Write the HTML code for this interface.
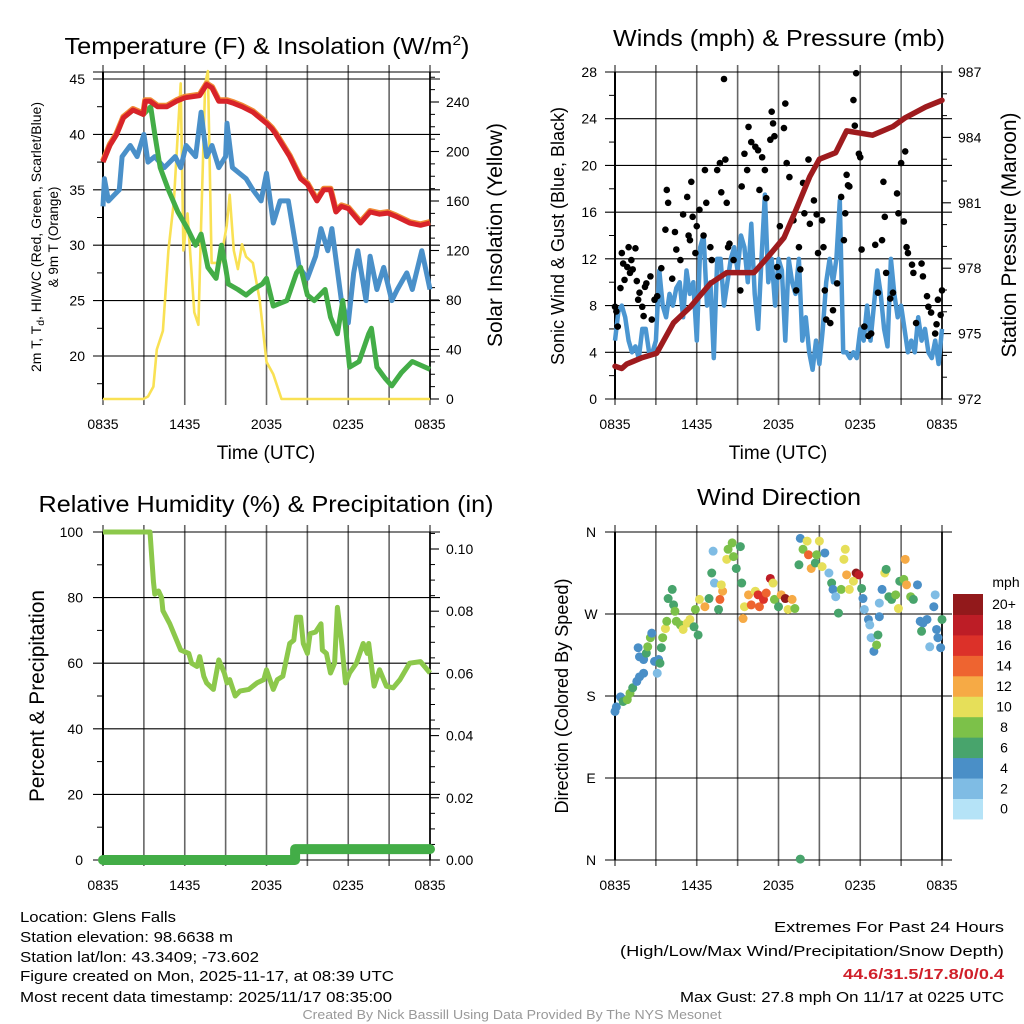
<!DOCTYPE html>
<html><head><meta charset="utf-8"><style>
html,body{margin:0;padding:0;background:#fff;}
svg{display:block;font-family:"Liberation Sans",sans-serif;}
</style></head><body>
<svg id="chart" width="1024" height="1024" viewBox="0 0 1024 1024" xmlns="http://www.w3.org/2000/svg">
<rect x="0" y="0" width="1024" height="1024" fill="#fff"/>
<g id="gTL"></g>
<g id="gTR"></g>
<g id="gBL"></g>
<g id="gBR"></g>
<!-- titles -->
<text x="267" y="54" font-size="23" text-anchor="middle" textLength="405" lengthAdjust="spacingAndGlyphs">Temperature (F) &amp; Insolation (W/m<tspan dy="-9" font-size="14">2</tspan><tspan dy="9">)</tspan></text>
<text x="779" y="46" font-size="23" text-anchor="middle" textLength="332" lengthAdjust="spacingAndGlyphs">Winds (mph) &amp; Pressure (mb)</text>
<text x="266" y="512" font-size="23" text-anchor="middle" textLength="455" lengthAdjust="spacingAndGlyphs">Relative Humidity (%) &amp; Precipitation (in)</text>
<text x="779" y="505" font-size="23" text-anchor="middle" textLength="164" lengthAdjust="spacingAndGlyphs">Wind Direction</text>
<!-- axis titles -->
<text x="266" y="459" font-size="19" text-anchor="middle">Time (UTC)</text>
<text x="778" y="459" font-size="19" text-anchor="middle">Time (UTC)</text>
<text transform="translate(41,237) rotate(-90)" font-size="13.5" text-anchor="middle" textLength="270" lengthAdjust="spacingAndGlyphs">2m T, T<tspan font-size="10" dy="3">d</tspan><tspan dy="-3">, HI/WC (Red, Green, Scarlet/Blue)</tspan></text>
<text transform="translate(58,237) rotate(-90)" font-size="13.5" text-anchor="middle">&amp; 9m T (Orange)</text>
<text transform="translate(502,235) rotate(-90)" font-size="21" text-anchor="middle" textLength="224" lengthAdjust="spacingAndGlyphs">Solar Insolation (Yellow)</text>
<text transform="translate(564,236) rotate(-90)" font-size="18" text-anchor="middle" textLength="258" lengthAdjust="spacingAndGlyphs">Sonic Wind &amp; Gust (Blue, Black)</text>
<text transform="translate(1016,235) rotate(-90)" font-size="21" text-anchor="middle" textLength="245" lengthAdjust="spacingAndGlyphs">Station Pressure (Maroon)</text>
<text transform="translate(44,696) rotate(-90)" font-size="21" text-anchor="middle" textLength="212" lengthAdjust="spacingAndGlyphs">Percent &amp; Precipitation</text>
<text transform="translate(568,696) rotate(-90)" font-size="18" text-anchor="middle" textLength="235" lengthAdjust="spacingAndGlyphs">Direction (Colored By Speed)</text>
<!-- footer -->
<g font-size="15" font-family="'Liberation Sans Narrow','Liberation Sans',sans-serif">
<text x="20" y="922" textLength="156" lengthAdjust="spacingAndGlyphs">Location: Glens Falls</text>
<text x="20" y="942" textLength="213" lengthAdjust="spacingAndGlyphs">Station elevation: 98.6638 m</text>
<text x="20" y="962" textLength="239" lengthAdjust="spacingAndGlyphs">Station lat/lon: 43.3409; -73.602</text>
<text x="20" y="981" textLength="374" lengthAdjust="spacingAndGlyphs">Figure created on Mon, 2025-11-17, at 08:39 UTC</text>
<text x="20" y="1002" textLength="372" lengthAdjust="spacingAndGlyphs">Most recent data timestamp: 2025/11/17 08:35:00</text>
</g>
<g font-size="15" font-family="'Liberation Sans Narrow','Liberation Sans',sans-serif" text-anchor="end">
<text x="1004" y="932" textLength="230" lengthAdjust="spacingAndGlyphs">Extremes For Past 24 Hours</text>
<text x="1004" y="956" textLength="384" lengthAdjust="spacingAndGlyphs">(High/Low/Max Wind/Precipitation/Snow Depth)</text>
<text x="1004" y="979" fill="#d0202a" font-weight="bold" textLength="161" lengthAdjust="spacingAndGlyphs">44.6/31.5/17.8/0/0.4</text>
<text x="1004" y="1002" textLength="324" lengthAdjust="spacingAndGlyphs">Max Gust: 27.8 mph On 11/17 at 0225 UTC</text>
</g>
<text x="512" y="1019" font-size="12.5" fill="#999" text-anchor="middle" font-family="'Liberation Sans Narrow','Liberation Sans',sans-serif" textLength="419" lengthAdjust="spacingAndGlyphs">Created By Nick Bassill Using Data Provided By The NYS Mesonet</text>
</svg>
<script>
// ---------- data ----------
const timeTicks = [0, 6, 12, 18, 24];
const timeTickLabels = ['0835', '1435', '2035', '0235', '0835'];
const tempTime = [0,0.5,1,1.5,2.2,2.96,3.1,3.45,4,4.7,5.4,6,7.1,7.6,8,8.5,9.1,9.6,10.2,11,12,12.4,12.7,13.2,13.7,14.5,15,15.7,16.2,16.7,17.1,17.5,18,18.9,19.6,20.3,20.9,21.5,22.5,23.3,24];
const tempVal = [37.5,39,40,41.5,42.2,41.8,43,43,42.5,42.5,43,43.3,43.5,44.5,44.2,43,43,42.8,42.5,42,41,40.5,40,39,38,36,35.5,34,35,35,33,33.5,33.3,32,33,32.8,32.9,32.6,32,31.8,32];
const dewTime = [0,0.5,1,1.5,2.2,2.96,3.5,3.8,4.2,4.8,5.5,6.2,6.8,7.2,7.7,8.3,8.7,9,9.2,9.9,10.5,11,11.7,12,12.5,13.5,14.2,14.5,15,15.5,16.3,16.7,17.2,17.6,18.1,18.8,19.5,19.7,20.1,20.7,21.2,21.9,22.7,24];
const dewVal = [37.5,39,40,41.5,42.2,41.8,42.5,40,37,35,33,31.5,30,31,28,27,30,28,26.5,26,25.5,26,26.5,27,24.5,25,27.5,28,25.5,25,26,23.5,22,25,19,19.5,22,22.5,19,18,17.3,18.5,19.5,18.8];
const chillTime = [0,0.1,0.4,0.8,1.2,1.4,2,2.5,3,3.3,3.8,4.5,5.3,5.7,6.1,6.8,7.2,7.6,8,8.5,9,9.1,9.5,10.5,11,11.6,12,12.5,13,13.6,14,14.4,15,15.6,16,16.5,16.8,17.5,18,18.4,18.7,19.3,19.6,20.1,20.6,21.2,21.6,22.3,22.7,23.4,24];
const chillVal = [33.5,36,34,34.5,35,38,39,38,40,37.5,38,37,38,37,39,38,42,38,39,37,38,41,37,36,35,34,36.5,32,34,34,31,28,27,29,31.5,29.5,31.5,25,23,27.5,29.5,25,29,26,28,25,26,27.5,26,29.5,26];
const solarTime = [0,2.96,3.3,3.7,3.95,4.4,4.8,5.2,5.7,5.9,6.2,6.7,7.0,7.2,7.5,7.7,7.97,8.6,9.08,9.3,9.6,9.9,10.2,10.5,11,11.5,12,12.5,13.1,24];
const solarVal = [0,0,2,10,40,55,120,160,255,120,150,70,60,140,255,265,110,110,140,165,120,105,125,115,110,80,30,20,0,0];
const pressTime = [0,0.5,0.86,2,3.06,4.3,5.5,7.0,8.2,10.2,11.2,12.4,13.3,14.3,15,16.2,17,18.9,20.4,21.3,22.8,24];
const pressVal = [973.5,973.4,973.6,973.9,974.1,975.5,976.2,977.3,977.8,977.8,978.5,979.4,980.7,982.2,983.0,983.3,984.3,984.1,984.5,984.9,985.4,985.7];
const windTime = [0,0.25,0.5,0.75,1,1.25,1.5,1.75,2,2.25,2.5,2.75,3,3.25,3.5,3.75,4,4.25,4.5,4.75,5,5.25,5.5,5.75,6,6.25,6.5,6.75,7,7.25,7.5,7.75,8,8.25,8.5,8.75,9,9.25,9.5,9.75,10,10.25,10.5,10.75,11,11.25,11.5,11.75,12,12.25,12.5,12.75,13,13.25,13.5,13.75,14,14.25,14.5,14.75,15,15.25,15.5,15.75,16,16.25,16.5,16.75,17,17.25,17.5,17.75,18,18.25,18.5,18.75,19,19.25,19.5,19.75,20,20.25,20.5,20.75,21,21.25,21.5,21.75,22,22.25,22.5,22.75,23,23.25,23.5,23.75,24];
const windVal = [5,7.5,8,7,5,4,4.5,3.5,6,6,4,4,5,11,8,7,9,8,9.5,10,7,11,9,10,5,13,14,8,10,3.5,12,12,8,10,12,13,11,14,13,10,15,9,6,12,17.5,10,12,8,12,11,5,12,10,9,12,5,7,4,2.5,5,3,6,10,12,10,12,17,4,4,3.5,4,3.5,6,5,8,5,8,11,9,6,4.5,12,9,7,8,6,4,5,4,7,5,6,4,3.5,5,3,6];
const gustTime = [0,0.1,0.2,0.4,0.5,0.6,0.7,0.9,1.0,1.1,1.2,1.3,1.5,1.6,1.7,1.8,2.0,2.1,2.2,2.3,2.6,2.7,2.9,3.1,3.4,3.7,3.8,3.9,4.2,4.4,4.5,4.8,5.0,5.3,5.4,5.5,5.6,5.7,5.9,6.0,6.2,6.5,6.6,6.7,7.0,7.1,7.5,7.7,7.8,8.0,8.1,8.2,8.3,8.4,8.7,9.2,9.3,9.5,9.7,9.8,10.0,10.3,10.5,10.6,10.8,11.0,11.1,11.4,11.5,11.6,11.7,11.9,12.0,12.1,12.4,12.5,12.6,12.8,13.1,13.3,13.5,13.6,13.8,13.9,14.2,14.3,14.6,14.8,14.9,15.2,15.3,15.4,15.5,15.8,16.0,16.3,16.6,16.8,16.9,17.0,17.1,17.2,17.5,17.6,17.7,17.9,18.0,18.1,18.3,18.6,18.8,19.1,19.3,19.6,19.7,19.8,19.9,20.2,20.4,20.7,20.8,21.0,21.2,21.3,21.4,21.5,21.8,21.9,22.1,22.5,22.6,22.9,23.0,23.2,23.5,23.6,23.7,23.9,24.0];
const gustVal = [7.9,7.5,6.2,9.5,12.5,11.6,10.2,11.3,13.0,10.8,11.9,11.1,12.9,10.1,8.5,9.1,7.9,7.1,9.6,9.9,10.5,6.8,8.5,8.8,11.2,14.5,17.9,16.8,10.3,14.3,12.8,11.9,15.8,17.3,14.0,13.6,18.6,15.6,12.5,14.8,16.2,14.0,19.6,16.8,13.0,11.9,19.6,20.2,17.7,27.4,20.5,16.8,13.0,13.3,11.9,9.3,18.2,21.0,19.6,23.3,22.0,21.6,21.3,17.9,20.7,19.6,17.2,22.2,24.6,23.6,22.5,11.3,10.5,14.8,23.2,25.3,20.2,19.0,15.3,9.3,13.0,11.1,18.5,15.9,20.5,15.0,17.0,15.8,12.5,15.3,13.0,9.3,6.8,6.5,7.6,9.9,17.3,13.6,15.9,19.2,18.3,18.2,25.6,23.4,27.9,21.0,20.7,12.8,6.2,5.4,5.6,13.2,9.1,13.6,18.6,15.6,10.8,8.6,9.1,17.6,15.9,20.2,15.2,21.2,13.0,12.5,11.5,10.8,6.5,11.6,10.5,8.8,7.9,7.4,5.6,6.4,8.5,7.2,9.3];
const rhTime = [0,3.45,3.7,3.8,4.07,4.3,4.4,4.9,5.4,5.7,6.3,6.5,6.9,7.1,7.4,7.6,8.1,8.5,8.9,9.1,9.3,9.7,10.05,10.7,11.3,11.8,12.0,12.5,12.8,13.2,13.7,14.0,14.2,14.5,14.7,15.0,15.2,15.6,16.0,16.1,16.4,16.7,17.0,17.2,17.5,17.8,18.1,18.6,19.1,19.4,19.5,19.9,20.3,20.8,21.3,21.8,22.5,23.3,24];
const rhVal = [100,100,85,81,82,80,76,72,67,64,63,60,59,62,56,54,52,61,57,54,55,50,51.5,52,54,55,58,52,55,56,66,67,74,74,66,63,69,69.5,72,64,63,57,60,77,67,54,57,60,66,63,66,53,58,53,52.5,55,60,60.5,57];
const precipTime = [0,14.1,14.1,24];
const precipVal = [0,0,0.0035,0.0035];
const dirTime = [0,0.1,0.4,0.6,0.9,1.1,1.3,1.6,1.8,2.1,1.7,1.8,2.1,2.3,2.4,2.6,2.7,2.9,3.1,3.2,3.3,3.4,3.5,3.7,3.8,3.9,4.2,4.3,4.4,4.5,4.8,5.0,5.3,5.5,5.8,6.1,5.9,6.2,6.6,6.9,7.1,7.2,7.3,7.6,7.7,7.9,7.8,8.2,8.3,8.6,8.7,8.9,9.2,9.3,9.4,9.5,9.8,10.0,10.3,10.5,10.6,10.9,11.1,11.4,11.6,11.7,12.0,12.2,12.5,12.7,13.0,13.2,13.5,13.6,13.6,13.8,14.1,14.2,14.4,14.7,14.8,15.0,15.2,15.4,15.7,15.9,16.0,16.2,16.4,16.6,16.8,16.9,17.0,17.2,17.5,17.7,17.9,18.1,18.2,18.3,18.6,18.7,18.8,19.0,19.2,19.3,19.4,19.4,19.6,19.8,19.9,20.1,20.3,20.6,20.8,20.9,21.2,21.3,21.4,21.7,21.9,22.2,22.4,22.6,22.9,23.1,23.4,23.5,23.6,23.7,23.9,24.0,22.5];
const dirVal = [163,168,179,174,176,183,189,196,201,205,233,223,220,227,234,244,249,218,205,220,216,233,244,254,262,287,297,280,273,262,258,253,260,264,256,247,275,286,278,287,315,339,304,275,286,295,302,330,341,348,333,320,344,304,265,278,291,280,295,291,278,286,293,309,304,286,278,291,287,275,286,276,324,353,1,341,350,335,320,326,335,350,322,337,315,304,297,289,271,297,330,341,313,297,306,315,313,298,287,275,264,258,244,229,236,247,267,282,297,315,319,289,286,291,276,306,308,330,302,289,286,302,262,260,264,234,278,291,253,244,233,264,251];
const dirSpeed = [4,4,4,6,8,8,6,4,4,4,4,4,4,6,8,8,4,4,2,4,6,6,8,10,8,6,6,6,8,8,8,10,10,10,6,6,8,10,12,6,6,2,2,6,14,12,10,10,8,8,8,6,6,6,12,10,12,14,10,16,14,16,14,18,10,8,6,12,20,10,12,8,6,4,6,8,10,14,12,6,8,10,10,4,2,6,4,2,6,8,10,10,12,10,10,20,18,6,4,2,4,2,2,4,8,6,4,2,4,10,6,6,6,8,10,6,8,12,12,8,6,4,4,4,4,2,4,2,4,4,4,6,6];
const speedBins = ['0','2','4','6','8','10','12','14','16','18','20+'];
const speedColors = ['#b5e3f7','#7fbce4','#4a8fc7','#48a46c','#7cc149','#e6df59','#f6aa45','#ee6430','#dc3129','#bd1d26','#92191b'];

// ---------- helpers ----------
const NS = 'http://www.w3.org/2000/svg';
function mk(tag, attrs, parent) {
  const e = document.createElementNS(NS, tag);
  for (const k in attrs) e.setAttribute(k, attrs[k]);
  parent.appendChild(e);
  return e;
}
function timeScale(x0, x1) { return t => x0 + t / 24 * (x1 - x0); }
function linScale(v0, y0, v1, y1) { return v => y0 + (v - v0) / (v1 - v0) * (y1 - y0); }
function pathD(ts, vs, xs, ys) {
  return ts.map((t, i) => (i ? 'L' : 'M') + xs(t).toFixed(1) + ',' + ys(vs[i]).toFixed(1)).join('');
}
function speedColor(s) {
  let i = Math.round(s / 2);
  if (i > 10) i = 10;
  if (i < 0) i = 0;
  return speedColors[i];
}

function drawFrame(g, x0, x1, yTop, yBot, tickLabelY) {
  const xs = timeScale(x0, x1);
  for (let h = 0; h <= 24; h += 3) {
    const l = mk('line', {x1: xs(h), x2: xs(h), y1: yTop - 7, y2: yBot + 6, stroke: '#666', 'stroke-width': 1.6}, g);
    
    
  }
  timeTicks.forEach((h, i) => {
    const t = mk('text', {x: xs(h), y: tickLabelY, 'font-size': 14, 'text-anchor': 'middle'}, g);
    t.textContent = timeTickLabels[i];
    
    
  });
  const a = mk('line', {x1: x0, x2: x0, y1: yTop, y2: yBot, stroke: '#000', 'stroke-width': 2}, g);
  
  
  const b = mk('line', {x1: x1, x2: x1, y1: yTop, y2: yBot, stroke: '#000', 'stroke-width': 1.6}, g);
  
  
}
function hGrid(g, x0, x1, y, label, labelX, anchor) {
  const l = mk('line', {x1: x0 - 10, x2: x1 + 10, y1: y, y2: y, stroke: '#000', 'stroke-width': 1.1}, g);
  
  
  if (label !== null) {
    const t = mk('text', {x: labelX, y: y + 5, 'font-size': 14, 'text-anchor': anchor}, g);
    t.textContent = label;
    
    
  }
}
function tick(g, x, y, len) {
  const l = mk('line', {x1: x, x2: x + len, y1: y, y2: y, stroke: '#000', 'stroke-width': 1}, g);
  
  
}
function rightLabel(g, x, y, s) {
  const l = mk('line', {x1: x, x2: x + 9, y1: y, y2: y, stroke: '#000', 'stroke-width': 1.1}, g);
  
  
  const t = mk('text', {x: x + 16, y: y + 5, 'font-size': 14, 'text-anchor': 'start'}, g);
  t.textContent = s;
  
  
}

// ---------- Temperature panel ----------
(function () {
  const g = document.getElementById('gTL');
  const x0 = 103, x1 = 430, yTop = 72, yBot = 399;
  const xs = timeScale(x0, x1);
  const yT = linScale(45, 79, 20, 356);
  const yS = linScale(0, 399, 240, 102);
  drawFrame(g, x0, x1, yTop, yBot, 429);
  const top = mk('line', {x1: x0 - 10, x2: x1 + 10, y1: yTop, y2: yTop, stroke: '#000', 'stroke-width': 1.1}, g);
  
  
  for (let v = 20; v <= 45; v += 5) hGrid(g, x0, x1, yT(v), String(v), 85, 'end');
  for (let v = 17.5; v < 45; v += 5) tick(g, x0 - 6, yT(v), 6);
  for (let v = 0; v <= 240; v += 40) rightLabel(g, x1, yS(v), String(v));
  for (let v = 10; v <= 260; v += 10) if (v % 40) tick(g, x1, yS(v), 5);
  const sol = mk('path', {d: pathD(solarTime, solarVal, xs, yS), fill: 'none', stroke: '#f9e154', 'stroke-width': 2.6, 'stroke-linejoin': 'round'}, g);
  
  
  const ch = mk('path', {d: pathD(chillTime, chillVal, xs, yT), fill: 'none', stroke: '#4a90c9', 'stroke-width': 5, 'stroke-linejoin': 'round'}, g);
  
  
  const dw = mk('path', {d: pathD(dewTime, dewVal, xs, yT), fill: 'none', stroke: '#43ad47', 'stroke-width': 5, 'stroke-linejoin': 'round'}, g);
  
  
  const or = mk('path', {d: pathD(tempTime, tempVal, xs, yT), fill: 'none', stroke: '#f08a35', 'stroke-width': 6, 'stroke-linejoin': 'round', transform: 'translate(0,-1)'}, g);
  
  
  const rd = mk('path', {d: pathD(tempTime, tempVal, xs, yT), fill: 'none', stroke: '#d8232a', 'stroke-width': 5, 'stroke-linejoin': 'round'}, g);
  
  
})();

// ---------- Winds panel ----------
(function () {
  const g = document.getElementById('gTR');
  const x0 = 615, x1 = 942, yTop = 72, yBot = 399;
  const xs = timeScale(x0, x1);
  const yW = linScale(0, 399, 28, 72);
  const yP = linScale(972, 399, 987, 72);
  drawFrame(g, x0, x1, yTop, yBot, 429);
  for (let v = 0; v <= 28; v += 4) hGrid(g, x0, x1, yW(v), String(v), 597, 'end');
  for (let v = 2; v < 28; v += 4) tick(g, x0 - 6, yW(v), 6);
  for (let p = 972; p <= 987; p += 3) rightLabel(g, x1, yP(p), String(p));
  for (let p = 973; p < 987; p++) if ((p - 972) % 3) tick(g, x1, yP(p), 5);
  const w = mk('path', {d: pathD(windTime, windVal, xs, yW), fill: 'none', stroke: '#4b96d1', 'stroke-width': 4.5, 'stroke-linejoin': 'round'}, g);
  
  
  gustTime.forEach((t, i) => {
    const c = mk('circle', {cx: xs(t), cy: yW(gustVal[i]), r: 3.3, fill: '#000'}, g);
    
    
  });
  const p = mk('path', {d: pathD(pressTime, pressVal, xs, yP), fill: 'none', stroke: '#9e1b1e', 'stroke-width': 5.5, 'stroke-linejoin': 'round', 'stroke-linecap': 'round'}, g);
  
  
})();

// ---------- Humidity panel ----------
(function () {
  const g = document.getElementById('gBL');
  const x0 = 103, x1 = 430, yTop = 532, yBot = 860;
  const xs = timeScale(x0, x1);
  const yR = linScale(0, 860, 100, 532);
  const yQ = linScale(0, 860, 0.1, 549);
  drawFrame(g, x0, x1, yTop, yBot, 890);
  for (let v = 0; v <= 100; v += 20) hGrid(g, x0, x1, yR(v), String(v), 83, 'end');
  for (let v = 10; v < 100; v += 20) tick(g, x0 - 6, yR(v), 6);
  for (let i = 0; i <= 5; i++) rightLabel(g, x1, yQ(i * 0.02), (i * 0.02).toFixed(2));
  for (let i = 1; i <= 21; i++) if (i % 4) tick(g, x1, yQ(i * 0.005), 5);
  const pr = mk('path', {d: pathD(precipTime, precipVal, xs, yQ), fill: 'none', stroke: '#43ad47', 'stroke-width': 10, 'stroke-linecap': 'round', 'stroke-linejoin': 'round'}, g);
  
  
  const rh = mk('path', {d: pathD(rhTime, rhVal, xs, yR), fill: 'none', stroke: '#8cc84b', 'stroke-width': 5, 'stroke-linejoin': 'round'}, g);
  
  
})();

// ---------- Wind direction panel ----------
(function () {
  const g = document.getElementById('gBR');
  const x0 = 615, x1 = 942, yTop = 532, yBot = 860;
  const xs = timeScale(x0, x1);
  const yD = linScale(0, 860, 360, 532);
  drawFrame(g, x0, x1, yTop, yBot, 890);
  const dirLabels = ['N', 'E', 'S', 'W', 'N'];
  dirLabels.forEach((s, i) => hGrid(g, x0, x1, yD(i * 90), s, 591, 'middle'));
  dirTime.forEach((t, i) => {
    const c = mk('circle', {cx: xs(t), cy: yD(dirVal[i]), r: 4.5, fill: speedColor(dirSpeed[i])}, g);
    
    
  });
  const cbTop = 594, cbH = 20.45;
  speedBins.forEach((lab, i) => {
    const y = cbTop + (10 - i) * cbH;
    const r = mk('rect', {x: 953, y: y, width: 30, height: cbH + 0.5, fill: speedColors[i]}, g);
    
    
    const t = mk('text', {x: 1004, y: y + cbH / 2 + 5, 'font-size': 14, 'text-anchor': 'middle'}, g);
    t.textContent = lab;
    
    
  });
  const u = mk('text', {x: 1006, y: 587, 'font-size': 14, 'text-anchor': 'middle'}, g);
  u.textContent = 'mph';
  
  
})();
</script>
</body></html>
